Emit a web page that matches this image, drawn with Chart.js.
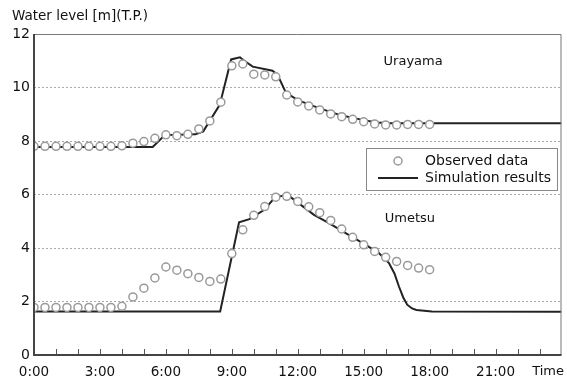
<!DOCTYPE html>
<html>
<head>
<meta charset="utf-8">
<script src="https://cdn.jsdelivr.net/npm/chart.js@4"></script>
<style>
  html, body { margin: 0; padding: 0; background: #fff; }
  #wrap { width: 567px; height: 385px; }
</style>
</head>
<body>
<div id="wrap"><canvas id="myChart"></canvas></div>
<script>
// observed every 30 min, 0:00 - 18:00
const obsTimes = [0, 0.5, 1, 1.5, 2, 2.5, 3, 3.5, 4, 4.5, 5, 5.5, 6, 6.5, 7, 7.5, 8, 8.5, 9,
    9.5, 10, 10.5, 11, 11.5, 12, 12.5, 13, 13.5, 14, 14.5, 15, 15.5, 16, 16.5, 17, 17.5, 18];
const urayamaObserved = [7.8, 7.8, 7.8, 7.8, 7.8, 7.8, 7.8, 7.8, 7.82, 7.92, 7.98, 8.1, 8.23, 8.2, 8.25, 8.45, 8.75, 9.45, 10.81,
    10.88, 10.5, 10.47, 10.4, 9.72, 9.46, 9.31, 9.16, 9.01, 8.91, 8.81, 8.72, 8.64, 8.6, 8.6, 8.62, 8.62, 8.62];
const umetsuObserved = [1.78, 1.78, 1.78, 1.78, 1.78, 1.78, 1.78, 1.78, 1.82, 2.17, 2.5, 2.88, 3.29, 3.17, 3.04, 2.9, 2.75, 2.84, 3.79,
    4.68, 5.22, 5.55, 5.9, 5.93, 5.74, 5.54, 5.32, 5.03, 4.71, 4.4, 4.12, 3.87, 3.65, 3.5, 3.35, 3.25, 3.19];

// simulation results (hours, level)
const urayamaSimTime = [0, 5.4, 5.95, 7.35, 7.7, 8.45, 8.97, 9.37, 9.52, 9.95, 10.85, 11.08, 11.46, 12, 13, 14, 15, 15.6, 16.2, 24];
const urayamaSimLevel = [7.78, 7.78, 8.22, 8.25, 8.36, 9.35, 11.05, 11.13, 11.03, 10.78, 10.63, 10.47, 9.81, 9.53, 9.22, 8.95, 8.78, 8.69, 8.66, 8.66];
const umetsuSimTime = [0, 8.47, 9.33, 9.8, 10.48, 11.0, 11.6, 12.74, 13.42, 14.18, 15.09, 15.69, 16.15, 16.4, 16.6, 16.8, 16.98, 17.2, 17.4, 18.1, 24];
const umetsuSimLevel = [1.63, 1.63, 4.96, 5.08, 5.43, 5.93, 5.95, 5.24, 4.93, 4.56, 4.12, 3.81, 3.44, 3.05, 2.57, 2.15, 1.88, 1.74, 1.68, 1.63, 1.62];

const xTickHours = [0, 3, 6, 9, 12, 15, 18, 21];
const yTicks = [0, 2, 4, 6, 8, 10, 12];

const FONT = "'DejaVu Sans', 'Liberation Sans', sans-serif";
const INK = "#111";

function pts(xs, ys) {
    return xs.map((x, i) => ({ x: x, y: ys[i] }));
}

const obsStyle = {
    showLine: false,
    pointStyle: "circle",
    pointRadius: 4,
    pointBorderColor: "#9a9a9a",
    pointBackgroundColor: "#fff",
    pointBorderWidth: 1.5,
    order: 0
};
const simStyle = {
    showLine: true,
    pointRadius: 0,
    borderColor: "#222",
    borderWidth: 2,
    tension: 0,
    order: 1
};

/* frame, hour ticks, labels, legend */
const decor = {
    id: "decor",
    afterDraw(chart) {
        const ctx = chart.ctx;
        const a = chart.chartArea;
        const xs = chart.scales.x;
        const ys = chart.scales.y;
        ctx.save();

        // hour ticks pointing up into the plot
        ctx.strokeStyle = "#555";
        ctx.lineWidth = 1;
        for (let h = 1; h < 24; h++) {
            const px = Math.round(xs.getPixelForValue(h)) + 0.5;
            ctx.beginPath();
            ctx.moveTo(px, a.bottom);
            ctx.lineTo(px, a.bottom - 6);
            ctx.stroke();
        }

        // frame
        ctx.strokeStyle = "#777";
        ctx.lineWidth = 1;
        ctx.beginPath();
        ctx.moveTo(a.left, a.top + 0.5);
        ctx.lineTo(a.right - 0.5, a.top + 0.5);
        ctx.lineTo(a.right - 0.5, a.bottom);
        ctx.stroke();
        ctx.strokeStyle = "#444";
        ctx.lineWidth = 2;
        ctx.beginPath();
        ctx.moveTo(a.left, a.top);
        ctx.lineTo(a.left, a.bottom);
        ctx.lineTo(a.right, a.bottom);
        ctx.stroke();

        ctx.fillStyle = INK;
        ctx.textBaseline = "middle";

        // axis texts
        ctx.font = "13.5px " + FONT;
        ctx.textAlign = "left";
        ctx.fillText("Water level [m](T.P.)", 12, 16);
        ctx.font = "13px " + FONT;
        ctx.textAlign = "right";
        ctx.fillText("Time", 564, 372);

        // station names
        ctx.textAlign = "center";
        ctx.fillText("Urayama", xs.getPixelForValue(17.25), ys.getPixelForValue(10.95));
        ctx.fillText("Umetsu", xs.getPixelForValue(17.1), ys.getPixelForValue(5.09));

        // legend
        const lx = 366, ly = 148, lw = 191, lh = 42;
        ctx.fillStyle = "#fff";
        ctx.fillRect(lx, ly, lw, lh);
        ctx.strokeStyle = "#888";
        ctx.lineWidth = 1;
        ctx.strokeRect(lx + 0.5, ly + 0.5, lw, lh);
        ctx.beginPath();
        ctx.arc(398, 161, 4, 0, Math.PI * 2);
        ctx.strokeStyle = "#9a9a9a";
        ctx.lineWidth = 1.5;
        ctx.stroke();
        ctx.beginPath();
        ctx.moveTo(378, 178);
        ctx.lineTo(418, 178);
        ctx.strokeStyle = "#222";
        ctx.lineWidth = 2;
        ctx.stroke();
        ctx.fillStyle = INK;
        ctx.font = "14px " + FONT;
        ctx.textAlign = "left";
        ctx.fillText("Observed data", 425, 161);
        ctx.fillText("Simulation results", 425, 178);

        ctx.restore();
    }
};

new Chart(document.getElementById("myChart"), {
    type: "scatter",
    data: {
        datasets: [
            Object.assign({ label: "Observed data", data: pts(obsTimes, urayamaObserved) }, obsStyle),
            Object.assign({ label: "Observed data (Umetsu)", data: pts(obsTimes, umetsuObserved) }, obsStyle),
            Object.assign({ label: "Simulation results", data: pts(urayamaSimTime, urayamaSimLevel) }, simStyle),
            Object.assign({ label: "Simulation results (Umetsu)", data: pts(umetsuSimTime, umetsuSimLevel) }, simStyle)
        ]
    },
    options: {
        responsive: true,
        maintainAspectRatio: false,
        animation: false,
        layout: { padding: { top: 34, right: 4, left: 0, bottom: 0 } },
        plugins: {
            legend: { display: false },
            tooltip: { enabled: false }
        },
        scales: {
            x: {
                type: "linear",
                min: 0,
                max: 24,
                afterBuildTicks: (scale) => {
                    scale.ticks = xTickHours.map(v => ({ value: v }));
                },
                afterFit: (scale) => { scale.height = 30; },
                ticks: {
                    autoSkip: false,
                    maxRotation: 0,
                    padding: 9,
                    color: INK,
                    font: { family: FONT, size: 13.5 },
                    callback: (v) => v + ":00"
                },
                grid: { display: false, drawTicks: false },
                border: { display: false }
            },
            y: {
                min: 0,
                max: 12,
                afterBuildTicks: (scale) => {
                    scale.ticks = yTicks.map(v => ({ value: v }));
                },
                afterFit: (scale) => { scale.width = 34; },
                ticks: {
                    padding: 4,
                    color: INK,
                    font: { family: FONT, size: 14 }
                },
                grid: {
                    drawTicks: false,
                    color: (c) => (c.tick && (c.tick.value === 0 || c.tick.value === 12)) ? "rgba(0,0,0,0)" : "#aaa",
                    lineWidth: 1
                },
                border: { display: false, dash: [2, 2] }
            }
        }
    },
    plugins: [decor]
});
</script>
</body>
</html>
